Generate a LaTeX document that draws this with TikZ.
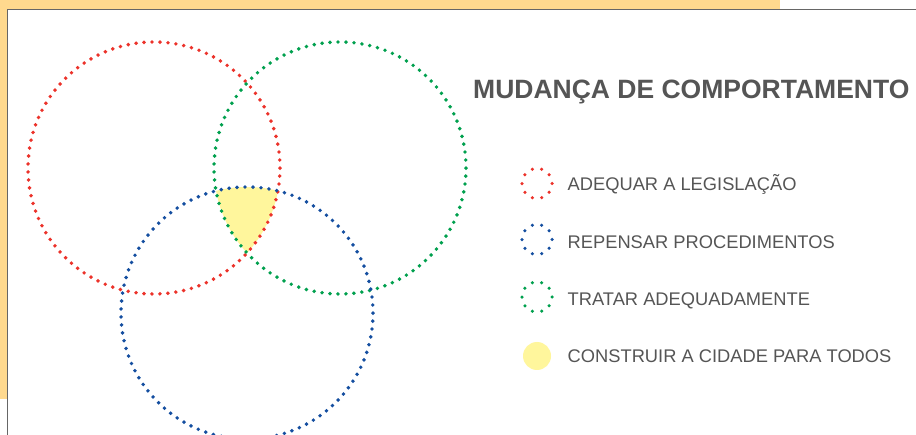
\documentclass[tikz,border=0pt]{standalone}
\usepackage{fontspec}
\setmainfont{Liberation Sans}
\usetikzlibrary{calc}
\definecolor{tanbg}{RGB}{255,217,142}
\definecolor{framegray}{RGB}{102,102,102}
\definecolor{dotred}{RGB}{236,50,42}
\definecolor{dotgreen}{RGB}{0,160,78}
\definecolor{dotblue}{RGB}{20,78,160}
\definecolor{hilite}{RGB}{255,246,156}
\definecolor{textgray}{RGB}{85,85,85}

\begin{document}
\begin{tikzpicture}[x=1pt,y=-1pt,
        ring/.style={line width=3.9pt, line cap=round, dash pattern=on 0pt off 7.997pt},
        keyring/.style={circle, minimum size=30pt, inner sep=0pt, line width=3.5pt, line cap=round, dash pattern=on 0pt off 9.42pt},
        keytext/.style={anchor=base west, inner sep=0pt, text=textgray, font=\fontsize{18.3}{20}\selectfont}]
        \useasboundingbox (0,0) rectangle (916,435);
        \fill [tanbg] (0,0) rectangle (780,399);
        \filldraw [fill=white, draw=framegray, line width=1.5pt] (7.5,9.5) rectangle (940,460);
        \coordinate (R) at (154,168);
        \coordinate (G) at (340,168);
        \coordinate (B) at (247,313);
        \begin{scope}
            \clip (R) circle (126pt);
            \clip (G) circle (126pt);
            \fill [hilite] (B) circle (126pt);
        \end{scope}
        \draw [ring, dotred] (R) circle (126pt);
        \draw [ring, dotgreen] (G) circle (126pt);
        \draw [ring, dotblue] (B) circle (126pt);
        \node (title) at (473,99) [anchor=base west, inner sep=0pt, text=textgray, font=\bfseries\fontsize{26.5}{30}\selectfont] {MUDANÇA DE COMPORTAMENTO};
        \node (keyA) at (537,183.5) [keyring, draw=dotred] {};
        \node (keyB) at (537,239.5) [keyring, draw=dotblue] {};
        \node (keyC) at (537,297) [keyring, draw=dotgreen] {};
        \node (keyD) at (537,356) [circle, minimum size=28pt, inner sep=0pt, fill=hilite] {};
        \node (txtA) at (567.5,190.7) [keytext] {ADEQUAR A LEGISLAÇÃO};
        \node (txtB) at (567.5,248.3) [keytext] {REPENSAR PROCEDIMENTOS};
        \node (txtC) at (567.5,305.7) [keytext] {TRATAR ADEQUADAMENTE};
        \node (txtD) at (567.5,362.7) [keytext] {CONSTRUIR A CIDADE PARA TODOS};
    \end{tikzpicture}
\end{document}
